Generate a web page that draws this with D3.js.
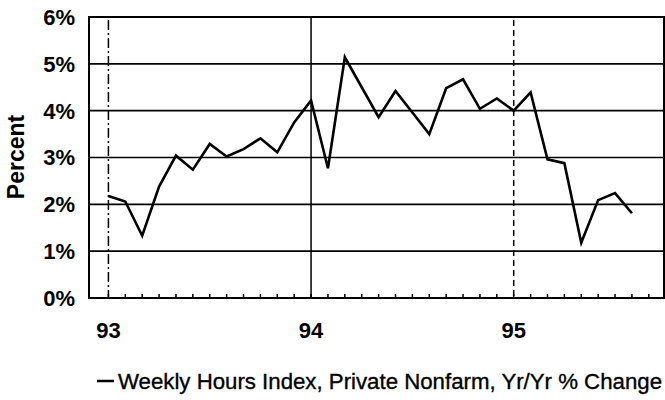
<!DOCTYPE html>
<html lang="en">
<head>
    <meta charset="UTF-8">
    <title>Weekly Hours Index</title>
    <script src="https://cdnjs.cloudflare.com/ajax/libs/d3/7.8.5/d3.min.js"></script>
    <style>
        body {
            margin: 0;
            background-color: white;
            font-family: "Liberation Sans", Arial, sans-serif;
        }
        .tick-label {
            font-size: 22px;
            font-weight: bold;
            fill: #000;
        }
    </style>
</head>
<body>
    <div id="chart"></div>

    <script>
        // Weekly hours index, private nonfarm, yr/yr % change, monthly from Jan 93
        const values = [
            2.18, 2.06, 1.33, 2.38, 3.04, 2.74, 3.29, 3.02, 3.18, 3.41, 3.11, 3.75,
            4.22, 2.77, 5.14, 4.50, 3.86, 4.42, 3.96, 3.50, 4.48, 4.67, 4.04, 4.26,
            4.00, 4.39, 2.96, 2.88, 1.18, 2.09, 2.24, 1.81
        ];
        const yearLabels = ["93", "94", "95"];
        const yearMonths = [0, 12, 24];
        const yearDash = ["10,3,2,3", null, "6,4"];
        const yTicks = [0, 1, 2, 3, 4, 5, 6];
        const legendLabel = "Weekly Hours Index, Private Nonfarm, Yr/Yr % Change";

        const width = 665, height = 400;
        const plotLeft = 89, plotRight = 664, plotTop = 17, plotBottom = 298;

        const svg = d3.select("#chart")
            .append("svg")
            .attr("width", width)
            .attr("height", height);

        const x = d3.scaleLinear().domain([-1.15, 32.9]).range([plotLeft, plotRight]);
        const y = d3.scaleLinear().domain([0, 6]).range([plotBottom, plotTop]);

        // horizontal gridlines
        svg.selectAll(".grid")
            .data(yTicks)
            .enter()
            .append("line")
            .attr("x1", plotLeft)
            .attr("x2", plotRight)
            .attr("y1", d => y(d))
            .attr("y2", d => y(d))
            .attr("stroke", "#000")
            .attr("stroke-width", 1.7);

        // y labels
        svg.selectAll(".ylab")
            .data(yTicks)
            .enter()
            .append("text")
            .attr("class", "tick-label")
            .attr("x", 75)
            .attr("y", d => y(d))
            .attr("dy", "0.36em")
            .attr("text-anchor", "end")
            .text(d => d + "%");

        // month ticks on the bottom axis
        svg.selectAll(".mtick")
            .data(d3.range(0, 33))
            .enter()
            .append("line")
            .attr("x1", d => x(d))
            .attr("x2", d => x(d))
            .attr("y1", plotBottom)
            .attr("y2", plotBottom - 4)
            .attr("stroke", "#000")
            .attr("stroke-width", 1.5);

        // year lines
        svg.selectAll(".yline")
            .data(yearMonths)
            .enter()
            .append("line")
            .attr("x1", d => x(d))
            .attr("x2", d => x(d))
            .attr("y1", (d, i) => i === 1 ? plotTop : plotTop + 3)
            .attr("y2", plotBottom)
            .attr("stroke", "#000")
            .attr("stroke-width", 1.5)
            .attr("stroke-dasharray", (d, i) => yearDash[i]);

        // year labels
        svg.selectAll(".xlab")
            .data(yearMonths)
            .enter()
            .append("text")
            .attr("class", "tick-label")
            .attr("x", d => x(d))
            .attr("y", 338)
            .attr("text-anchor", "middle")
            .text((d, i) => yearLabels[i]);

        // frame
        svg.append("rect")
            .attr("x", plotLeft)
            .attr("y", plotTop)
            .attr("width", plotRight - plotLeft)
            .attr("height", plotBottom - plotTop)
            .attr("fill", "none")
            .attr("stroke", "#000")
            .attr("stroke-width", 2);

        // the series
        const line = d3.line()
            .x((d, i) => x(i))
            .y(d => y(d));

        svg.append("path")
            .datum(values)
            .attr("d", line)
            .attr("fill", "none")
            .attr("stroke", "#000")
            .attr("stroke-width", 2.6)
            .attr("stroke-linejoin", "miter");

        // axis title
        svg.append("text")
            .attr("class", "tick-label")
            .style("font-size", "23px")
            .attr("transform", "translate(24,157) rotate(-90)")
            .attr("text-anchor", "middle")
            .text("Percent");

        // legend
        svg.append("line")
            .attr("x1", 97)
            .attr("x2", 114)
            .attr("y1", 381)
            .attr("y2", 381)
            .attr("stroke", "#000")
            .attr("stroke-width", 2.5);

        svg.append("text")
            .attr("x", 118)
            .attr("y", 389)
            .attr("font-size", "22px")
            .attr("fill", "#000")
            .attr("stroke", "#000")
            .attr("stroke-width", 0.35)
            .attr("textLength", 544)
            .attr("lengthAdjust", "spacingAndGlyphs")
            .text(legendLabel);
    </script>
</body>
</html>
